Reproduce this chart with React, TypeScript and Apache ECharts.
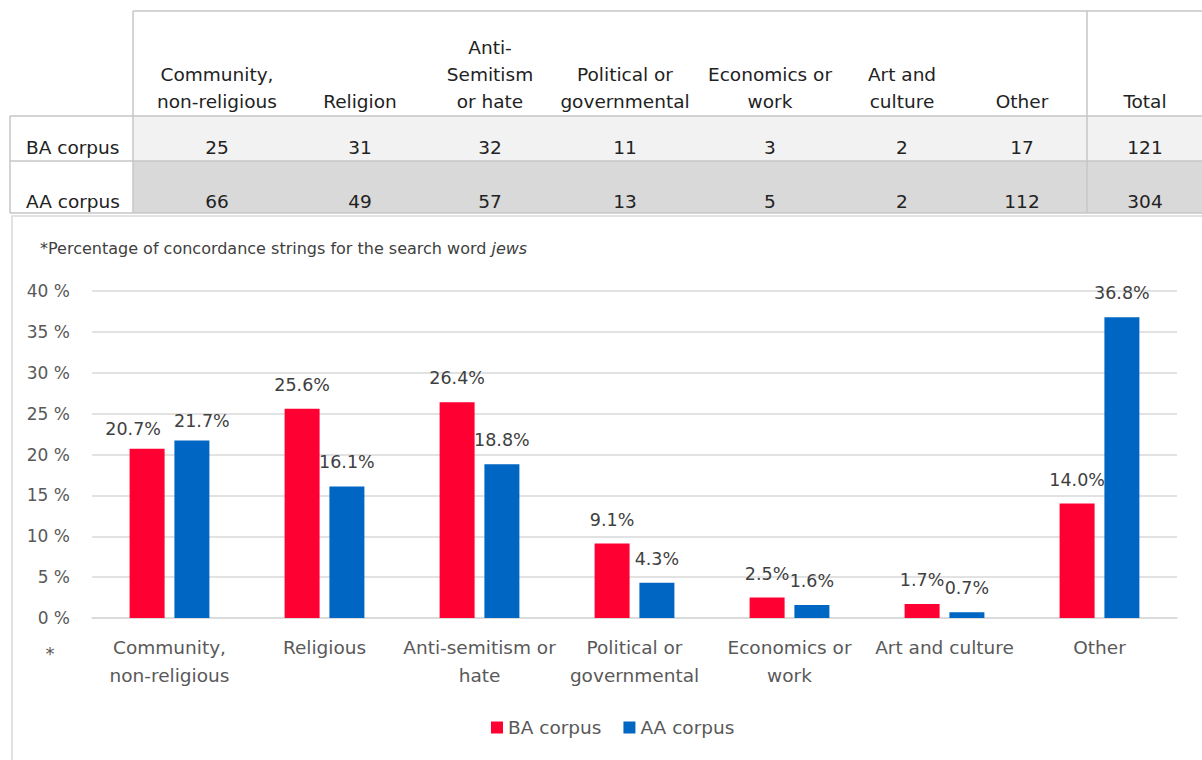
import React, { useEffect, useRef } from "react";
import * as echarts from "echarts";

const categories = [
  "Community,\nnon-religious",
  "Religious",
  "Anti-semitism or\nhate",
  "Political or\ngovernmental",
  "Economics or\nwork",
  "Art and culture",
  "Other",
];
const seriesNames = ["BA corpus", "AA corpus"];
const baPercent = [20.7, 25.6, 26.4, 9.1, 2.5, 1.7, 14.0];
const aaPercent = [21.7, 16.1, 18.8, 4.3, 1.6, 0.7, 36.8];

const tableHeaders = [
  "Community,\nnon-religious",
  "Religion",
  "Anti-\nSemitism\nor hate",
  "Political or\ngovernmental",
  "Economics or\nwork",
  "Art and\nculture",
  "Other",
  "Total",
];
const tableRowLabels = ["BA corpus", "AA corpus"];
const baCounts = [25, 31, 32, 11, 3, 2, 17, 121];
const aaCounts = [66, 49, 57, 13, 5, 2, 112, 304];
const yTicks = [0, 5, 10, 15, 20, 25, 30, 35, 40];

const FONT = "'DejaVu Sans', 'Open Sans', sans-serif";

export default function App() {
  const ref = useRef<HTMLDivElement>(null);
  useEffect(() => {
    if (!ref.current) return;
    const chart = echarts.init(ref.current, null, { renderer: "svg" });

    const colCenters = [217, 360, 490, 625, 770, 902, 1022, 1145];
    const lineColor = "#c6c6c6";
    const textDark = "#222222";
    const TFS = 18.5;
    const graphics: any[] = [];
    // table fills
    graphics.push({ type: "rect", shape: { x: 133, y: 116, width: 1069, height: 45 }, style: { fill: "#f2f2f2" } });
    graphics.push({ type: "rect", shape: { x: 133, y: 161, width: 1069, height: 52 }, style: { fill: "#d9d9d9" } });
    const hLines = [
      [133, 11, 1202, 11],
      [10, 116, 1202, 116],
      [10, 161, 1202, 161],
      [10, 213, 1202, 213],
      [10, 116, 10, 213],
      [133, 11, 133, 213],
      [1087, 11, 1087, 213],
    ];
    hLines.forEach(([x1, y1, x2, y2]) =>
      graphics.push({ type: "line", shape: { x1, y1, x2, y2 }, style: { stroke: lineColor, lineWidth: 1.5 } })
    );
    tableHeaders.forEach((h, i) =>
      graphics.push({
        type: "text",
        x: colCenters[i],
        y: 115,
        style: { text: h, fill: textDark, fontSize: TFS, fontFamily: FONT, align: "center", verticalAlign: "bottom", lineHeight: 27 },
      })
    );
    [baCounts, aaCounts].forEach((row, r) => {
      const y = r === 0 ? 147 : 201;
      graphics.push({
        type: "text",
        x: 26,
        y,
        style: { text: tableRowLabels[r], fill: textDark, fontSize: TFS, fontFamily: FONT, align: "left", verticalAlign: "middle" },
      });
      row.forEach((v, i) =>
        graphics.push({
          type: "text",
          x: colCenters[i],
          y,
          style: { text: String(v), fill: textDark, fontSize: TFS, fontFamily: FONT, align: "center", verticalAlign: "middle" },
        })
      );
    });
    // chart box
    graphics.push({ type: "rect", shape: { x: 12, y: 216, width: 1200, height: 560 }, style: { fill: "none", stroke: "#d9d9d9", lineWidth: 1.5 } });
    graphics.push({
      type: "text",
      x: 40,
      y: 248,
      style: {
        text: "{n|*Percentage of concordance strings for the search word }{i|jews}",
        verticalAlign: "middle",
        rich: {
          n: { fontSize: 16, fill: "#404040", fontFamily: FONT },
          i: { fontSize: 16, fill: "#404040", fontFamily: FONT, fontStyle: "italic" },
        },
      },
    });
    graphics.push({
      type: "text",
      x: 50,
      y: 653,
      style: { text: "*", fill: "#595959", fontSize: 18, fontFamily: FONT, align: "center", verticalAlign: "middle" },
    });

    const labelOpt = {
      show: true,
      position: "top",
      distance: 15,
      fontSize: 17.5,
      color: "#404040",
      fontFamily: FONT,
      formatter: (p: any) => Number(p.value).toFixed(1) + "%",
    };

    // the first pair of labels is nudged apart so they do not overlap
    const baData = baPercent.map((v, i) =>
      i === 0 ? { value: v, label: { offset: [-14, 4] } } : v
    );
    const aaData = aaPercent.map((v, i) =>
      i === 0 ? { value: v, label: { offset: [10, 4] } } : v
    );

    chart.setOption({
      animation: false,
      textStyle: { fontFamily: FONT },
      grid: { left: 92, right: 25, top: 291, bottom: 142, containLabel: false },
      legend: {
        data: seriesNames,
        bottom: 18,
        left: 486,
        itemWidth: 12,
        itemHeight: 12,
        itemGap: 22,
        icon: "rect",
        textStyle: { fontSize: 18.5, color: "#595959", fontFamily: FONT },
      },
      xAxis: {
        type: "category",
        data: categories,
        axisLine: { lineStyle: { color: "#d9d9d9", width: 1.5 } },
        axisTick: { show: false },
        axisLabel: { fontSize: 18.5, color: "#595959", lineHeight: 28, margin: 15, interval: 0, fontFamily: FONT },
      },
      yAxis: {
        type: "value",
        min: yTicks[0],
        max: yTicks[yTicks.length - 1],
        interval: 5,
        axisLine: { show: false },
        axisTick: { show: false },
        axisLabel: { fontSize: 17, color: "#595959", formatter: "{value} %", margin: 22, fontFamily: FONT },
        splitLine: { lineStyle: { color: "#d9d9d9", width: 1.5 } },
      },
      series: [
        { name: seriesNames[0], type: "bar", data: baData, barWidth: 35, barGap: "28%", itemStyle: { color: "#FF0033" }, label: labelOpt },
        { name: seriesNames[1], type: "bar", data: aaData, barWidth: 35, itemStyle: { color: "#0066C4" }, label: labelOpt },
      ],
      graphic: { elements: graphics },
    });
    return () => chart.dispose();
  }, []);
  return <div ref={ref} style={{ position: "absolute", left: 0, top: 0, width: 1202, height: 760, background: "#fff" }} />;
}
